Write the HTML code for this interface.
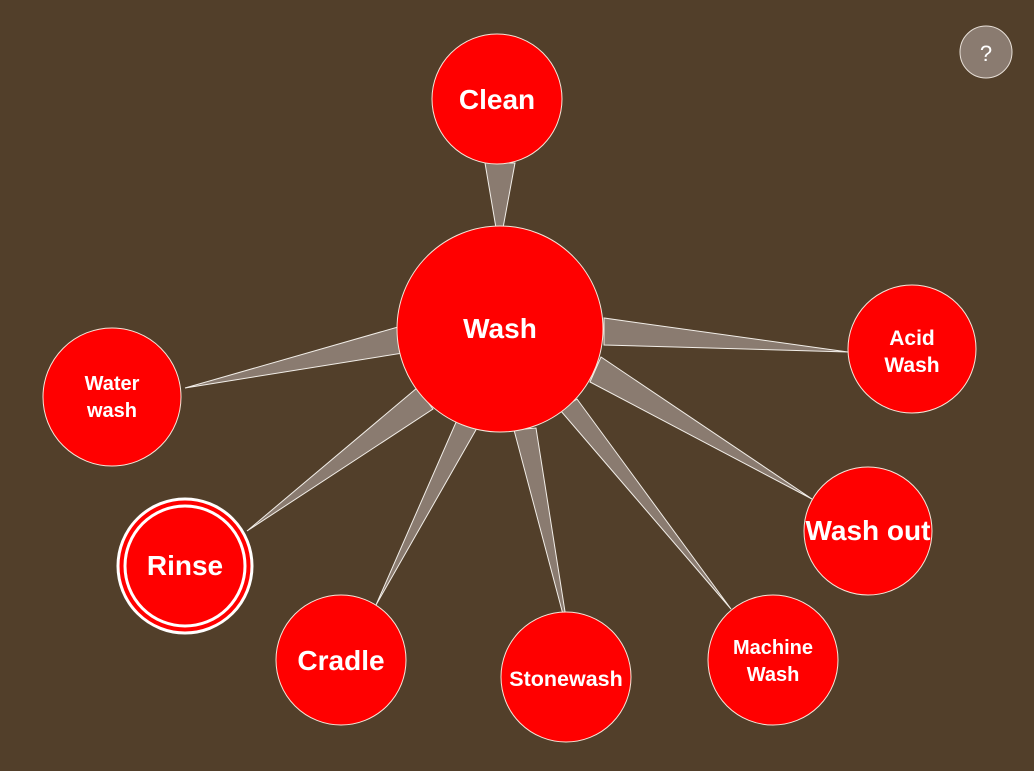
<!DOCTYPE html>
<html><head><style>
body{margin:0;background:#523f2a;}
svg{display:block}
text{font-family:"Liberation Sans",Arial,sans-serif;font-weight:bold;fill:#fff;text-anchor:middle}
</style></head><body>
<svg width="1034" height="771" viewBox="0 0 1034 771">
<rect width="1034" height="771" fill="#523f2a"/>
<g fill="#8a7b70" stroke="#f2eee8" stroke-width="1">
<polygon points="485,163 515,163 503,228 496,228"/>
<polygon points="398,327 403,353 185,388"/>
<polygon points="417,388 433,409 247,531"/>
<polygon points="457,420 477,428 376,605"/>
<polygon points="514,430 536,428 569,637"/>
<polygon points="560,410 577,399 731,609"/>
<polygon points="590,382 601,357 812,499"/>
<polygon points="604,318 604,345 848,352"/>
</g>
<g fill="#ff0000" stroke="#f5e6d8" stroke-width="1">
<circle cx="497" cy="99" r="65"/>
<circle cx="500" cy="329" r="103"/>
<circle cx="912" cy="349" r="64"/>
<circle cx="112" cy="397" r="69"/>
<circle cx="341" cy="660" r="65"/>
<circle cx="566" cy="677" r="65"/>
<circle cx="773" cy="660" r="65"/>
<circle cx="868" cy="531" r="64"/>
</g>
<circle cx="185" cy="566" r="67" fill="#ff0000" stroke="#fff" stroke-width="3"/>
<circle cx="185" cy="566" r="60" fill="none" stroke="#fff" stroke-width="3"/>
<circle cx="986" cy="52" r="26" fill="#8a7b70" stroke="#e8e0d8" stroke-width="1"/>
<text x="986" y="61" font-size="22" style="font-weight:normal">?</text>
<text x="497" y="109" font-size="28">Clean</text>
<text x="500" y="338" font-size="28">Wash</text>
<text x="912" y="345" font-size="21">Acid</text>
<text x="912" y="372" font-size="21">Wash</text>
<text x="112" y="390" font-size="20">Water</text>
<text x="112" y="417" font-size="20">wash</text>
<text x="185" y="575" font-size="28">Rinse</text>
<text x="341" y="670" font-size="28">Cradle</text>
<text x="566" y="686" font-size="21.5">Stonewash</text>
<text x="773" y="654" font-size="20">Machine</text>
<text x="773" y="681" font-size="20">Wash</text>
<text x="868" y="540" font-size="28">Wash out</text>
</svg>
</body></html>
